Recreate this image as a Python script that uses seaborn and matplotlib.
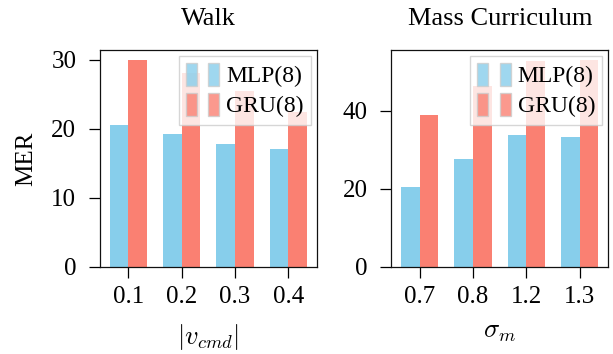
import matplotlib
matplotlib.use("Agg")
import matplotlib.pyplot as plt
from matplotlib.patches import Patch
from matplotlib.legend_handler import HandlerTuple
import pandas as pd
import seaborn as sns

# values
models = ["MLP(8)", "GRU(8)"]
walk_speeds = ["0.1", "0.2", "0.3", "0.4"]
walk_mlp = [20.5, 19.2, 17.8, 17.1]
walk_gru = [29.9, 28.0, 25.4, 22.4]

mass_sigmas = ["0.7", "0.8", "1.2", "1.3"]
mass_mlp = [20.4, 27.6, 33.8, 33.2]
mass_gru = [38.9, 46.3, 52.7, 52.9]

colors = {"MLP(8)": "#87CEEB", "GRU(8)": "#FA8072"}

sns.set_theme(style="ticks")
plt.rcParams["font.family"] = ["Liberation Serif", "DejaVu Serif"]
plt.rcParams["mathtext.fontset"] = "cm"
plt.rcParams["axes.edgecolor"] = "#111111"
plt.rcParams["axes.linewidth"] = 0.9
plt.rcParams["text.color"] = "black"
plt.rcParams["axes.labelcolor"] = "black"
plt.rcParams["xtick.color"] = "black"
plt.rcParams["ytick.color"] = "black"


def make_df(cats, mlp, gru):
    rows = []
    for c, m, g in zip(cats, mlp, gru):
        rows.append({"x": c, "model": models[0], "val": m})
        rows.append({"x": c, "model": models[1], "val": g})
    return pd.DataFrame(rows)


fig, axes = plt.subplots(1, 2, figsize=(6.13, 3.54), dpi=100)
fig.subplots_adjust(left=0.163, right=0.992, bottom=0.246, top=0.859, wspace=0.346)

panels = [
    (axes[0], make_df(walk_speeds, walk_mlp, walk_gru), "Walk", r"$|v_{cmd}|$", [0, 10, 20, 30]),
    (axes[1], make_df(mass_sigmas, mass_mlp, mass_gru), "Mass Curriculum", r"$\sigma_m$", [0, 20, 40]),
]

fs = 18
for ax, df, title, xlabel, yticks in panels:
    sns.barplot(data=df, x="x", y="val", hue="model", palette=colors,
                width=0.7, saturation=1, legend=False, linewidth=0, ax=ax)
    ax.set_xlim(-0.53, 3.53)
    ax.set_yticks(yticks)
    ax.set_title(title, fontsize=19, pad=18)
    ax.set_xlabel(xlabel, fontsize=19, labelpad=10)
    ax.set_ylabel("")
    ax.tick_params(axis="both", labelsize=fs, length=8, width=0.9)
    ax.tick_params(axis="y", pad=9)
    ax.tick_params(axis="x", pad=6)
    for s in ax.spines.values():
        s.set_visible(True)

    handles = [
        (Patch(facecolor=colors[m], edgecolor="#cccccc", alpha=0.8),
         Patch(facecolor=colors[m], edgecolor="#cccccc", alpha=0.8))
        for m in models
    ]
    leg = ax.legend(handles, models, loc="upper right", fontsize=17,
                    handler_map={tuple: HandlerTuple(ndivide=None, pad=0.5)},
                    handlelength=1.4, handleheight=1.1, handletextpad=0.3,
                    labelspacing=0.25, borderpad=0.3, borderaxespad=0.25,
                    fancybox=False, framealpha=0.8, edgecolor="#cccccc")
    leg.get_frame().set_linewidth(1.0)

axes[0].set_ylabel("MER", fontsize=18, labelpad=10)

fig.savefig("out.png", dpi=100)
